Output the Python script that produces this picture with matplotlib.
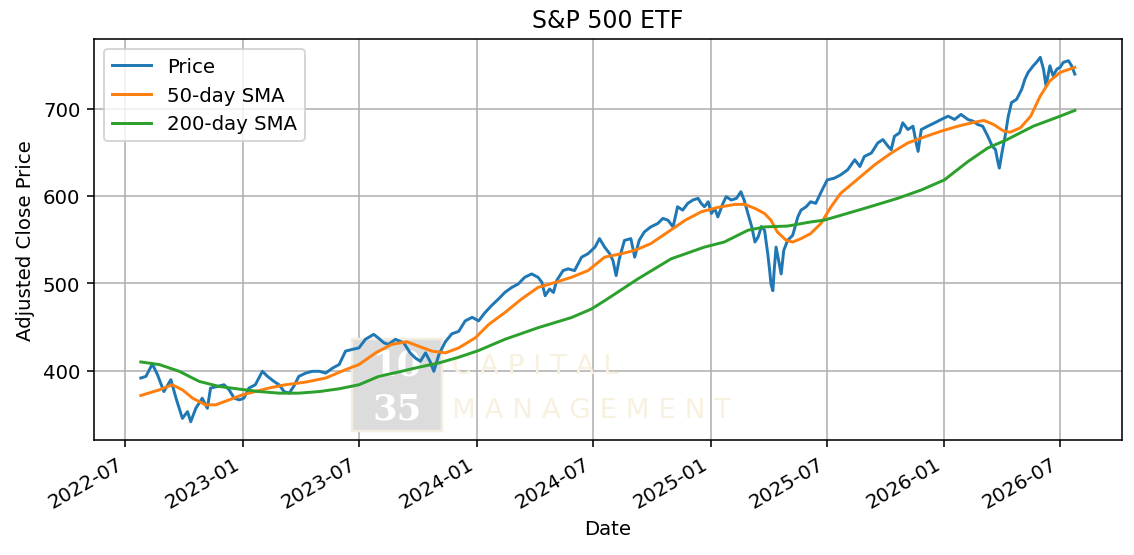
import pandas as pd
import matplotlib
matplotlib.use("Agg")
import matplotlib.pyplot as plt
import matplotlib.dates as mdates
from matplotlib.patches import Rectangle

# price (roughly weekly)
price_dates = [
    "2022-07-25", "2022-08-02", "2022-08-12", "2022-08-20", "2022-08-30", "2022-09-10",
    "2022-09-18", "2022-09-28", "2022-10-06", "2022-10-11", "2022-10-19", "2022-10-29",
    "2022-11-06", "2022-11-11", "2022-11-22", "2022-12-02", "2022-12-10", "2022-12-18",
    "2022-12-26", "2023-01-02", "2023-01-10", "2023-01-20", "2023-01-31", "2023-02-08",
    "2023-02-18", "2023-02-26", "2023-03-06", "2023-03-14", "2023-03-21", "2023-03-29",
    "2023-04-09", "2023-04-19", "2023-04-30", "2023-05-10", "2023-05-21", "2023-05-31",
    "2023-06-10", "2023-06-20", "2023-07-01", "2023-07-11", "2023-07-24", "2023-08-01",
    "2023-08-09", "2023-08-16", "2023-08-27", "2023-09-09", "2023-09-19", "2023-09-27",
    "2023-10-05", "2023-10-13", "2023-10-20", "2023-10-26", "2023-11-03", "2023-11-13",
    "2023-11-23", "2023-12-04", "2023-12-14", "2023-12-25", "2024-01-04", "2024-01-14",
    "2024-01-25", "2024-02-04", "2024-02-14", "2024-02-25", "2024-03-06", "2024-03-16",
    "2024-03-27", "2024-04-06", "2024-04-12", "2024-04-17", "2024-04-24", "2024-04-30",
    "2024-05-05", "2024-05-15", "2024-05-23", "2024-06-02", "2024-06-13", "2024-06-23",
    "2024-07-04", "2024-07-11", "2024-07-19", "2024-07-27", "2024-08-01", "2024-08-06",
    "2024-08-11", "2024-08-19", "2024-08-29", "2024-09-04", "2024-09-11", "2024-09-19",
    "2024-09-29", "2024-10-10", "2024-10-18", "2024-10-26", "2024-11-03", "2024-11-10",
    "2024-11-18", "2024-11-26", "2024-12-04", "2024-12-12", "2024-12-17", "2024-12-22",
    "2024-12-28", "2025-01-02", "2025-01-07", "2025-01-12", "2025-01-20", "2025-01-25",
    "2025-02-02", "2025-02-10", "2025-02-17", "2025-02-22", "2025-02-28", "2025-03-06",
    "2025-03-11", "2025-03-16", "2025-03-21", "2025-03-26", "2025-03-31", "2025-04-03",
    "2025-04-05", "2025-04-08", "2025-04-10", "2025-04-13", "2025-04-18", "2025-04-21",
    "2025-04-25", "2025-05-01", "2025-05-09", "2025-05-17", "2025-05-22", "2025-05-30",
    "2025-06-06", "2025-06-14", "2025-06-19", "2025-06-24", "2025-07-02", "2025-07-13",
    "2025-07-23", "2025-08-03", "2025-08-14", "2025-08-22", "2025-08-29", "2025-09-09",
    "2025-09-19", "2025-09-27", "2025-10-05", "2025-10-10", "2025-10-15", "2025-10-23",
    "2025-10-28", "2025-11-05", "2025-11-13", "2025-11-18", "2025-11-21", "2025-11-26",
    "2025-12-06", "2025-12-17", "2025-12-27", "2026-01-07", "2026-01-17", "2026-01-27",
    "2026-02-07", "2026-02-15", "2026-02-22", "2026-03-02", "2026-03-10", "2026-03-17",
    "2026-03-22", "2026-03-25", "2026-03-28", "2026-04-01", "2026-04-06", "2026-04-11",
    "2026-04-16", "2026-04-24", "2026-05-02", "2026-05-07", "2026-05-12", "2026-05-20",
    "2026-05-25", "2026-05-31", "2026-06-05", "2026-06-09", "2026-06-15", "2026-06-20",
    "2026-06-26", "2026-07-01", "2026-07-06", "2026-07-14", "2026-07-19", "2026-07-24",
]
price = [
    391.5, 393.4, 407.6, 395.4, 376.0, 389.6,
    368.4, 345.3, 353.0, 341.5, 356.9, 368.4,
    356.9, 380.0, 381.9, 383.8, 378.0, 368.4,
    366.5, 368.4, 380.0, 383.8, 399.2, 393.4,
    387.7, 383.8, 376.0, 374.2, 381.9, 393.4,
    397.2, 399.2, 399.2, 397.2, 403.0, 406.9,
    422.3, 424.2, 426.0, 435.8, 441.5, 436.9,
    431.8, 430.0, 435.8, 431.8, 420.3, 414.5,
    410.7, 420.3, 410.7, 399.2, 418.5, 433.0,
    442.0, 445.0, 456.9, 461.0, 456.9, 466.4,
    475.0, 481.9, 489.5, 495.3, 499.2, 506.8,
    510.7, 506.8, 501.0, 485.7, 493.4, 489.5,
    503.0, 514.5, 516.5, 514.5, 529.9, 533.8,
    541.4, 551.1, 541.4, 533.8, 526.0, 508.8,
    528.0, 549.1, 551.1, 529.9, 549.1, 558.7,
    564.5, 568.4, 574.2, 572.2, 564.5, 587.6,
    583.7, 591.5, 595.3, 597.2, 591.5, 587.6,
    593.3, 579.9, 585.7, 576.0, 591.5, 599.1,
    595.3, 597.2, 604.8, 595.3, 579.9, 564.5,
    547.2, 553.0, 565.0, 560.7, 533.8, 514.5,
    499.2, 491.5, 514.5, 541.4, 522.3, 510.7,
    537.6, 549.1, 554.9, 576.0, 583.7, 587.6,
    593.3, 591.5, 599.1, 606.8, 618.3, 620.3,
    624.1, 630.0, 641.4, 633.7, 645.2, 649.1,
    660.7, 664.5, 656.8, 653.0, 668.3, 672.2,
    683.7, 676.0, 679.8, 660.7, 651.0, 676.0,
    679.8, 683.7, 687.5, 691.3, 687.5, 693.3,
    687.5, 685.6, 681.8, 679.8, 668.3, 656.8,
    653.0, 641.4, 631.8, 649.1, 668.3, 691.3,
    706.8, 710.6, 722.1, 733.7, 741.4, 749.0,
    752.9, 758.7, 745.2, 726.0, 749.0, 737.5,
    745.2, 747.2, 752.9, 754.8, 749.0, 739.5,
]

sma50_dates = [
    "2022-07-25", "2022-08-23", "2022-09-12", "2022-09-28", "2022-10-14", "2022-11-03",
    "2022-11-19", "2022-12-10", "2022-12-31", "2023-01-20", "2023-02-10", "2023-03-08",
    "2023-04-09", "2023-05-10", "2023-06-10", "2023-07-01", "2023-07-27", "2023-08-21",
    "2023-09-14", "2023-10-02", "2023-10-23", "2023-11-13", "2023-12-04", "2023-12-30",
    "2024-01-20", "2024-02-14", "2024-03-11", "2024-04-06", "2024-05-03", "2024-05-28",
    "2024-06-23", "2024-07-19", "2024-08-14", "2024-09-04", "2024-09-29", "2024-10-26",
    "2024-11-22", "2024-12-17", "2025-01-12", "2025-02-08", "2025-02-23", "2025-03-11",
    "2025-03-26", "2025-04-05", "2025-04-15", "2025-04-29", "2025-05-09", "2025-05-22",
    "2025-06-06", "2025-06-22", "2025-07-08", "2025-07-23", "2025-08-14", "2025-09-14",
    "2025-10-10", "2025-11-05", "2025-12-01", "2025-12-27", "2026-01-22", "2026-02-17",
    "2026-03-04", "2026-03-19", "2026-04-04", "2026-04-14", "2026-04-30", "2026-05-16",
    "2026-05-31", "2026-06-15", "2026-07-01", "2026-07-24",
]
sma50 = [
    371.5, 378.0, 383.8, 378.0, 368.4, 360.8,
    360.8, 366.5, 372.3, 376.0, 380.0, 383.8,
    386.9, 391.5, 401.1, 406.9, 420.3, 430.0,
    433.0, 428.0, 422.3, 420.3, 426.0, 437.6,
    453.0, 466.4, 481.9, 495.3, 501.0, 506.8,
    514.5, 529.9, 533.8, 537.6, 545.3, 558.7,
    572.2, 581.8, 586.9, 590.3, 590.3, 585.7,
    579.9, 572.2, 558.7, 549.1, 547.2, 551.1,
    556.9, 568.4, 587.6, 603.0, 616.4, 635.6,
    649.1, 660.7, 667.6, 674.1, 679.8, 684.4,
    686.4, 681.8, 674.1, 673.0, 678.0, 691.3,
    714.4, 731.7, 741.4, 747.2,
]

sma200_dates = [
    "2022-07-25", "2022-08-23", "2022-09-23", "2022-10-24", "2022-11-24", "2022-12-26",
    "2023-01-26", "2023-02-26", "2023-03-29", "2023-04-30", "2023-05-31", "2023-07-01",
    "2023-08-01", "2023-09-01", "2023-10-02", "2023-11-03", "2023-12-04", "2024-01-04",
    "2024-02-14", "2024-04-06", "2024-05-28", "2024-06-28", "2024-07-19", "2024-09-09",
    "2024-10-31", "2024-12-22", "2025-01-22", "2025-02-28", "2025-03-26", "2025-05-01",
    "2025-06-06", "2025-06-27", "2025-08-29", "2025-10-20", "2025-11-26", "2026-01-01",
    "2026-02-07", "2026-03-10", "2026-04-09", "2026-05-20", "2026-07-01", "2026-07-24",
]
sma200 = [
    409.9, 406.9, 399.2, 387.7, 381.9, 378.8,
    376.0, 374.2, 374.2, 376.0, 379.2, 383.8,
    393.4, 398.4, 403.8, 408.8, 415.3, 423.0,
    435.8, 449.1, 460.7, 470.4, 480.0, 505.0,
    528.0, 541.4, 547.2, 560.7, 564.5, 565.5,
    570.2, 572.2, 585.7, 597.2, 606.8, 618.3,
    639.4, 654.9, 664.5, 679.8, 691.3, 697.9,
]

fig, ax = plt.subplots(figsize=(8.0, 3.922), dpi=141.75)

ax.plot(pd.to_datetime(price_dates), price, label="Price")
ax.plot(pd.to_datetime(sma50_dates), sma50, label="50-day SMA")
ax.plot(pd.to_datetime(sma200_dates), sma200, label="200-day SMA")

# faint logo watermark, above the grid but below the lines
ax.add_patch(Rectangle((0.251, 0.022), 0.088, 0.229, transform=ax.transAxes,
                       facecolor="#dcdcdc", edgecolor="#f4eee2", lw=1.2, zorder=1.7))
ax.text(0.295, 0.188, "10", transform=ax.transAxes, ha="center", va="center",
        family="DejaVu Serif", fontsize=18, fontweight="bold", color="white", zorder=1.8)
ax.text(0.295, 0.078, "35", transform=ax.transAxes, ha="center", va="center",
        family="DejaVu Serif", fontsize=18, fontweight="bold", color="white", zorder=1.8)
ax.text(0.348, 0.185, "C A P I T A L", transform=ax.transAxes, ha="left", va="center",
        fontsize=14, color="#f9f1e0", zorder=1.8)
ax.text(0.348, 0.075, "M A N A G E M E N T", transform=ax.transAxes, ha="left",
        va="center", fontsize=14, color="#f9f1e0", zorder=1.8)

ax.set_title("S&P 500 ETF")
ax.set_xlabel("Date")
ax.set_ylabel("Adjusted Close Price")
ax.xaxis.set_major_locator(mdates.MonthLocator(bymonth=[1, 7]))
ax.xaxis.set_major_formatter(mdates.DateFormatter("%Y-%m"))
ax.grid(True)
ax.legend(loc="upper left")
fig.autofmt_xdate()

fig.subplots_adjust(left=0.083, right=0.989, top=0.928, bottom=0.207)
fig.savefig("out.png")
